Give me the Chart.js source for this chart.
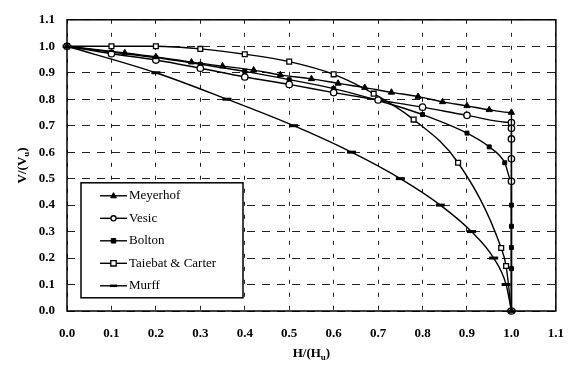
<!DOCTYPE html>
<html>
<head>
<meta charset="utf-8">
<script src="https://cdn.jsdelivr.net/npm/chart.js@4"></script>
<style>
html,body{margin:0;padding:0;background:#fff;}
#wrap{width:579px;height:365px;}
</style>
</head>
<body>
<div id="wrap"><canvas id="c" width="579" height="365"></canvas></div>
<script>
// ---- data ----
const seriesNames = ['Meyerhof', 'Vesic', 'Bolton', 'Taiebat & Carter', 'Murff'];

const meyerhofH = [0, 0.13, 0.2, 0.28, 0.35, 0.42, 0.48, 0.55, 0.61, 0.67, 0.73, 0.79, 0.845, 0.9, 0.95, 1.0, 1.0];
const meyerhofV = [1.0, 0.975, 0.96, 0.94, 0.925, 0.91, 0.892, 0.877, 0.86, 0.844, 0.826, 0.81, 0.79, 0.775, 0.76, 0.75, 0.0];

const vesicH = [0, 0.1, 0.2, 0.3, 0.4, 0.5, 0.6, 0.7, 0.8, 0.9, 1.0, 1.0, 1.0, 1.0, 1.0, 1.0];
const vesicV = [1.0, 0.972, 0.948, 0.917, 0.884, 0.856, 0.825, 0.797, 0.77, 0.739, 0.712, 0.69, 0.65, 0.575, 0.49, 0.0];

const boltonH = [0, 0.1, 0.2, 0.3, 0.4, 0.5, 0.6, 0.7, 0.8, 0.9, 0.95, 0.985, 1.0, 1.0, 1.0, 1.0, 1.0, 1.0];
const boltonV = [1.0, 0.978, 0.957, 0.932, 0.905, 0.874, 0.84, 0.795, 0.742, 0.672, 0.62, 0.56, 0.49, 0.40, 0.32, 0.24, 0.16, 0.0];

const taiebatH = [0, 0.1, 0.2, 0.3, 0.4, 0.5, 0.6, 0.69, 0.78, 0.88, 0.977, 0.988, 1.0];
const taiebatV = [1.0, 1.0, 1.0, 0.99, 0.97, 0.942, 0.894, 0.821, 0.723, 0.56, 0.238, 0.17, 0.0];

const murffH = [0, 0.2, 0.36, 0.51, 0.64, 0.75, 0.84, 0.91, 0.96, 0.988, 1.0];
const murffV = [1.0, 0.90, 0.80, 0.70, 0.60, 0.50, 0.40, 0.30, 0.20, 0.10, 0.0];

const tickValues = [0, 0.1, 0.2, 0.3, 0.4, 0.5, 0.6, 0.7, 0.8, 0.9, 1.0, 1.1];
const tickLabels = ['0.0','0.1','0.2','0.3','0.4','0.5','0.6','0.7','0.8','0.9','1.0','1.1'];

// ---- build ----
function pts(h, v){ return h.map((x,i)=>({x:x, y:v[i]})); }

const styles = [
  {pointStyle:'triangle', pointRadius:3.6, pointBackgroundColor:'#000', pointBorderWidth:1},
  {pointStyle:'circle', pointRadius:3.2, pointBackgroundColor:'#fff', pointBorderWidth:1.3},
  {pointStyle:'rect', pointRadius:2.8, pointBackgroundColor:'#000', pointBorderWidth:1},
  {pointStyle:'rect', pointRadius:3.4, pointBackgroundColor:'#fff', pointBorderWidth:1.3},
  {pointStyle:'line', pointRadius:4.5, pointBackgroundColor:'#000', pointBorderWidth:3}
];
const hs = [meyerhofH, vesicH, boltonH, taiebatH, murffH];
const vs = [meyerhofV, vesicV, boltonV, taiebatV, murffV];

const datasets = seriesNames.map((n,i)=>Object.assign({
  label:n,
  data:pts(hs[i], vs[i]),
  showLine:true,
  borderColor:'#000',
  borderWidth:1.4,
  pointBorderColor:'#000',
  cubicInterpolationMode:'monotone',
  clip:false
}, styles[i]));

const SERIF = '"Liberation Serif", "Times New Roman", serif';

const boxPlugin = {
  id:'boxPlugin',
  afterDatasetsDraw(chart){
    const ctx = chart.ctx, a = chart.chartArea;
    ctx.save();
    ctx.strokeStyle = '#000';
    ctx.lineWidth = 1.5;
    ctx.strokeRect(a.left, a.top, a.right-a.left, a.bottom-a.top);
    ctx.restore();
  },
  afterDraw(chart){
    const ctx = chart.ctx, a = chart.chartArea;
    ctx.save();
    // legend box
    const lx = a.left + 14, ly = a.top + 163, lw = 162, lh = 115;
    ctx.fillStyle = '#fff';
    ctx.fillRect(lx, ly, lw, lh);
    ctx.strokeStyle = '#000';
    ctx.lineWidth = 1.5;
    ctx.strokeRect(lx, ly, lw, lh);
    ctx.font = '13px ' + SERIF;
    ctx.textBaseline = 'middle';
    ctx.textAlign = 'left';
    chart.data.datasets.forEach((ds,i)=>{
      const y = ly + 13 + i*22.5;
      ctx.strokeStyle = '#000';
      ctx.lineWidth = 1.4;
      ctx.beginPath();
      ctx.moveTo(lx + 19, y);
      ctx.lineTo(lx + 46, y);
      ctx.stroke();
      ctx.fillStyle = ds.pointBackgroundColor;
      ctx.strokeStyle = '#000';
      ctx.lineWidth = ds.pointBorderWidth;
      drawShape(ctx, ds.pointStyle, lx + 32.5, y, ds.pointRadius*0.8);
      ctx.fillStyle = '#000';
      ctx.fillText(ds.label, lx + 48, y);
    });
    // axis titles with subscripts
    ctx.fillStyle = '#000';
    drawSubTitle(ctx, 'H/(H', 'u', ')', (a.left+a.right)/2, 353, 0);
    drawSubTitle(ctx, 'V/(V', 'u', ')', 22, (a.top+a.bottom)/2, -Math.PI/2);
    ctx.restore();
  }
};
function drawShape(ctx, style, x, y, r){
  ctx.save();
  if(style==='triangle'){
    ctx.beginPath();
    ctx.moveTo(x, y - r*1.1); ctx.lineTo(x + r, y + r*0.7); ctx.lineTo(x - r, y + r*0.7); ctx.closePath();
    ctx.fill(); ctx.stroke();
  } else if(style==='circle'){
    ctx.beginPath(); ctx.arc(x,y,r,0,Math.PI*2); ctx.fill(); ctx.stroke();
  } else if(style==='rect'){
    ctx.beginPath(); ctx.rect(x-r, y-r, 2*r, 2*r); ctx.fill(); ctx.stroke();
  } else if(style==='line'){
    ctx.lineWidth = 2.5;
    ctx.beginPath(); ctx.moveTo(x-r, y); ctx.lineTo(x+r, y); ctx.stroke();
  }
  ctx.restore();
}
function drawSubTitle(ctx, main, sub, tail, cx, cy, rot){
  ctx.save();
  ctx.translate(cx, cy);
  ctx.rotate(rot);
  const f1 = 'bold 13px ' + SERIF, f2 = 'bold 9px ' + SERIF;
  ctx.font = f1; const w1 = ctx.measureText(main).width; const w3 = ctx.measureText(tail).width;
  ctx.font = f2; const w2 = ctx.measureText(sub).width;
  let x = -(w1+w2+w3)/2;
  ctx.textBaseline = 'alphabetic';
  ctx.textAlign = 'left';
  ctx.font = f1; ctx.fillText(main, x, 4); x += w1;
  ctx.font = f2; ctx.fillText(sub, x, 7); x += w2;
  ctx.font = f1; ctx.fillText(tail, x, 4);
  ctx.restore();
}

const tickFont = {family: SERIF, size: 13, weight: 'bold'};

new Chart(document.getElementById('c'), {
  type:'scatter',
  data:{datasets},
  options:{
    responsive:false,
    animation:false,
    layout:{padding:{left:0, right:12, top:12, bottom:0}},
    plugins:{legend:{display:false}, tooltip:{enabled:false}},
    scales:{
      x:{
        type:'linear', min:0, max:1.1,
        afterFit(s){ s.height = 54; },
        afterBuildTicks(s){ s.ticks = tickValues.map(v=>({value:v})); },
        ticks:{color:'#000', font:tickFont, padding:15, maxRotation:0,
               callback:(v,i)=>tickLabels[i]},
        grid:{color:'#222', lineWidth:1, drawTicks:false},
        border:{display:false, dash:[4,9]}
      },
      y:{
        type:'linear', min:0, max:1.1,
        afterFit(s){ s.width = 67; },
        afterBuildTicks(s){ s.ticks = tickValues.map(v=>({value:v})); },
        ticks:{color:'#000', font:tickFont, padding:12,
               callback:(v,i)=>tickLabels[i]},
        grid:{color:'#222', lineWidth:1, drawTicks:false},
        border:{display:false, dash:[8,7]}
      }
    }
  },
  plugins:[boxPlugin]
});
</script>
</body>
</html>
